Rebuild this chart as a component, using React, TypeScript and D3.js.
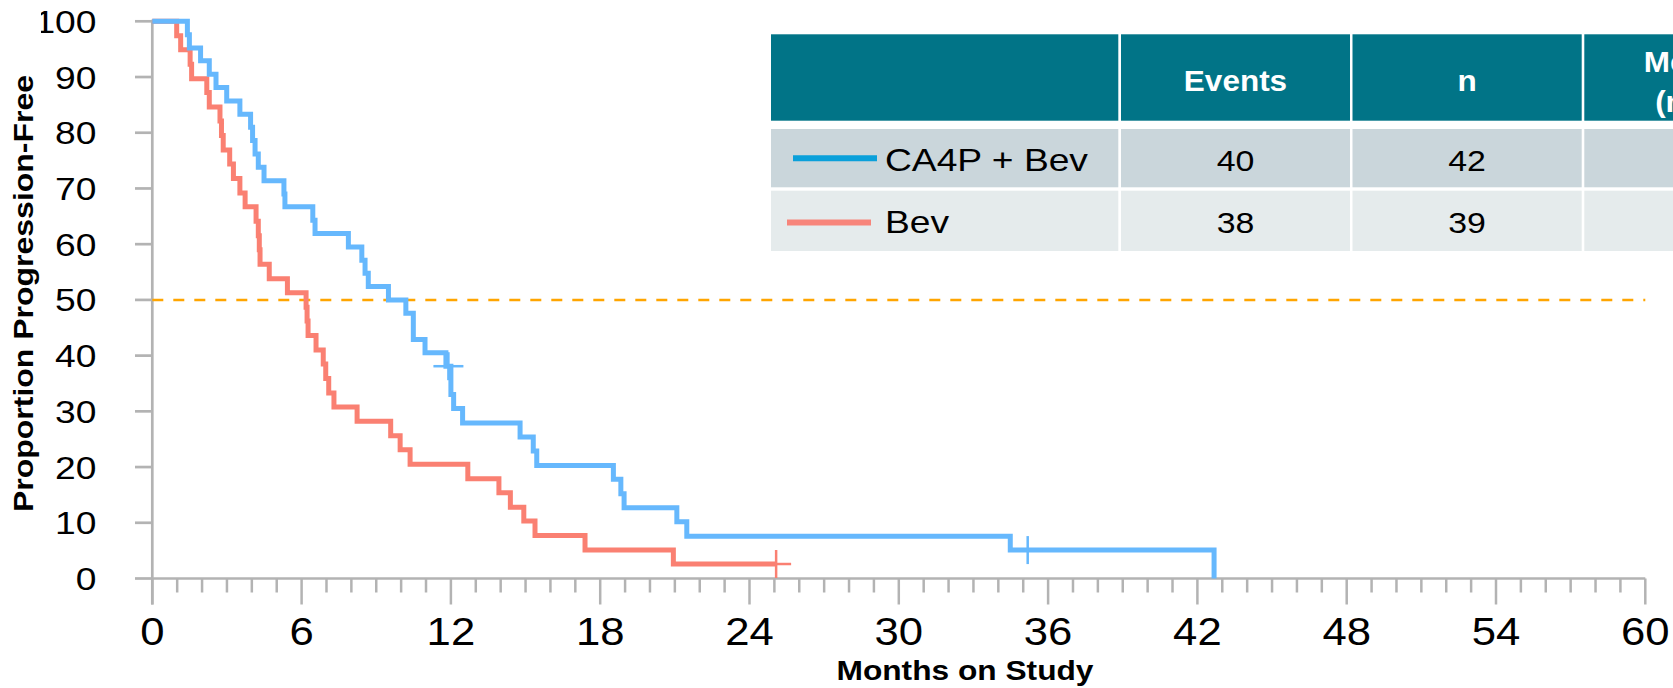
import React from "react";
import * as d3 from "d3";

// axis ticks
const xTicks = [0, 6, 12, 18, 24, 30, 36, 42, 48, 54, 60];
const yTicks = [0, 10, 20, 30, 40, 50, 60, 70, 80, 90, 100];

// CA4P + Bev (blue) KM steps: time in months, proportion progression-free
const caTimes = [0, 1.41, 1.49, 1.94, 2.29, 2.56, 2.99, 3.52, 3.95, 4.03, 4.13, 4.26, 4.49, 5.29, 5.33, 6.45, 6.54, 7.88, 8.42, 8.55, 8.68, 9.49, 10.19, 10.49, 10.96, 11.8, 12.0, 12.11, 12.47, 14.78, 15.31, 15.45, 18.53, 18.83, 18.96, 21.08, 21.48, 34.48, 42.67];
const caSurv = [100, 97.6, 95.2, 92.9, 90.5, 88.1, 85.7, 83.3, 81.0, 78.6, 76.2, 73.8, 71.4, 69.0, 66.7, 64.3, 61.9, 59.5, 57.1, 54.8, 52.4, 50.0, 47.6, 42.9, 40.5, 38.1, 33.0, 30.5, 27.9, 25.4, 22.9, 20.3, 17.8, 15.2, 12.7, 10.2, 7.6, 5.1, 0];
const caCensorTimes = [11.9, 35.18];
const caCensorSurv = [38.1, 5.1];

// Bev (red)
const bevTimes = [0, 0.98, 1.14, 1.52, 1.58, 2.19, 2.29, 2.72, 2.78, 2.85, 3.11, 3.26, 3.52, 3.73, 4.17, 4.26, 4.3, 4.33, 4.7, 5.43, 6.18, 6.22, 6.26, 6.58, 6.87, 6.97, 7.09, 7.3, 8.23, 9.58, 9.96, 10.36, 12.68, 13.93, 14.39, 14.93, 15.38, 17.39, 20.94, 25.07];
const bevSurv = [100, 97.4, 94.9, 92.3, 89.7, 87.2, 84.6, 82.1, 79.5, 76.9, 74.4, 71.8, 69.2, 66.7, 64.1, 61.5, 59.0, 56.4, 53.8, 51.3, 48.7, 46.2, 43.6, 41.0, 38.5, 35.9, 33.3, 30.8, 28.2, 25.6, 23.1, 20.5, 17.9, 15.4, 12.8, 10.3, 7.7, 5.1, 2.6, 2.6];
const bevCensorTimes = [25.07];
const bevCensorSurv = [2.6];

// table
const tableSeries = ["CA4P + Bev", "Bev"];
const tableEvents = [40, 38];
const tableN = [42, 39];
const medianHeader = ["Median", "(mos)"];

const W = 1673;
const H = 688;
const FONT = "'Liberation Sans', Arial, Helvetica, sans-serif";
const GREY = "#b3b3b3";
const BLUE = "#66b8fd";
const RED = "#fa8072";

const x = d3.scaleLinear().domain([0, 60]).range([152.3, 1645.3]);
const y = d3.scaleLinear().domain([0, 100]).range([578.5, 21.3]);

const stepLine = d3
  .line<[number, number]>()
  .x((d) => x(d[0]))
  .y((d) => y(d[1]))
  .curve(d3.curveStepAfter);

function Stretch({ px, py, sx = 1, anchor = "middle", size, weight = "normal", fill = "#000", children }: any) {
  return (
    <g transform={`translate(${px},${py}) scale(${sx},1)`}>
      <text x={0} y={0} textAnchor={anchor} fontSize={size} fontWeight={weight} fill={fill} fontFamily={FONT}>
        {children}
      </text>
    </g>
  );
}

function Censor({ t, s, color }: any) {
  const cx = x(t);
  const cy = y(s);
  return (
    <g stroke={color} strokeWidth={2.5}>
      <line x1={cx - 15} x2={cx + 15} y1={cy} y2={cy} />
      <line x1={cx} x2={cx} y1={cy - 14} y2={cy + 14} />
    </g>
  );
}

function Table() {
  const cols = [
    [771, 1118.3],
    [1121, 1350],
    [1352.5, 1581.7],
    [1584.3, 1840],
  ];
  const rows = [
    [34.3, 120.7],
    [129, 187.3],
    [190.7, 251],
  ];
  const fills = ["#017487", "#cad6db", "#e5ebec"];
  const rowBase = [170.7, 233.2];
  const legendColors = ["#0aa0da", "#f7857b"];
  const legendY = [158.3, 222.4];
  const legendX = [
    [793, 877],
    [787, 871],
  ];
  const mid = (c: number[]) => (c[0] + c[1]) / 2;
  return (
    <g>
      {rows.map((r, ri) =>
        cols.map((c, ci) => (
          <rect key={`${ri}-${ci}`} x={c[0]} y={r[0]} width={c[1] - c[0]} height={r[1] - r[0]} fill={fills[ri]} />
        ))
      )}
      <Stretch px={mid(cols[1])} py={90.7} sx={1.05} size={30} weight="bold" fill="#fff">Events</Stretch>
      <Stretch px={mid(cols[2])} py={90.7} sx={1.05} size={30} weight="bold" fill="#fff">n</Stretch>
      <Stretch px={1698} py={72.3} sx={1.05} size={30} weight="bold" fill="#fff">{medianHeader[0]}</Stretch>
      <Stretch px={1698} py={111.5} sx={1.05} size={30} weight="bold" fill="#fff">{medianHeader[1]}</Stretch>
      {tableSeries.map((name, i) => (
        <g key={name}>
          <line x1={legendX[i][0]} x2={legendX[i][1]} y1={legendY[i]} y2={legendY[i]} stroke={legendColors[i]} strokeWidth={6} />
          <Stretch px={885} py={rowBase[i]} sx={1.2} anchor="start" size={31}>{name}</Stretch>
          <Stretch px={mid(cols[1])} py={rowBase[i]} sx={1.13} size={30}>{tableEvents[i]}</Stretch>
          <Stretch px={mid(cols[2])} py={rowBase[i]} sx={1.13} size={30}>{tableN[i]}</Stretch>
        </g>
      ))}
    </g>
  );
}

export default function App() {
  const caPts = caTimes.map((t, i) => [t, caSurv[i]] as [number, number]);
  const bevPts = bevTimes.map((t, i) => [t, bevSurv[i]] as [number, number]);
  const minor = d3.range(0, 61, 1);
  const axisY = y(0);

  return (
    <>
      <style>{"body{margin:0;overflow:hidden}"}</style>
      <svg width={W} height={H} style={{ display: "block", background: "#fff" }}>
        <defs>
          <clipPath id="ylab">
            <rect x={41} y={0} width={200} height={H} />
          </clipPath>
        </defs>

        {/* y axis */}
        <line x1={x(0)} x2={x(0)} y1={y(100) - 1.5} y2={axisY + 26} stroke={GREY} strokeWidth={2.7} />
        {yTicks.map((v) => (
          <line key={v} x1={135} x2={x(0)} y1={y(v)} y2={y(v)} stroke={GREY} strokeWidth={2.7} />
        ))}
        <g clipPath="url(#ylab)">
          {yTicks.map((v) => (
            <Stretch key={v} px={96.5} py={y(v) + 11.5} sx={1.2} anchor="end" size={31}>{v}</Stretch>
          ))}
        </g>

        {/* x axis */}
        <line x1={x(0)} x2={x(60)} y1={axisY} y2={axisY} stroke={GREY} strokeWidth={2.7} />
        {minor.map((m) => (
          <line key={m} x1={x(m)} x2={x(m)} y1={axisY} y2={axisY + (m % 6 === 0 ? 26 : 14)} stroke={GREY} strokeWidth={2.5} />
        ))}
        {xTicks.map((v) => (
          <Stretch key={v} px={x(v)} py={645} sx={1.12} size={39}>{v}</Stretch>
        ))}

        {/* axis titles */}
        <text x={965} y={680} textAnchor="middle" fontSize={27} fontWeight="bold" fontFamily={FONT} textLength={257} lengthAdjust="spacingAndGlyphs">
          Months on Study
        </text>
        <text transform="translate(33.3,293.5) rotate(-90)" textAnchor="middle" fontSize={28} fontWeight="bold" fontFamily={FONT} textLength={437} lengthAdjust="spacingAndGlyphs">
          Proportion Progression-Free
        </text>

        {/* median reference */}
        <line x1={x(0)} x2={x(60)} y1={y(50)} y2={y(50)} stroke="#ffa500" strokeWidth={2.5} strokeDasharray="11 10" />

        {/* curves */}
        <path d={stepLine(bevPts) || ""} fill="none" stroke={RED} strokeWidth={5} strokeLinejoin="miter" />
        <path d={stepLine(caPts) || ""} fill="none" stroke={BLUE} strokeWidth={5} strokeLinejoin="miter" />
        {bevCensorTimes.map((t, i) => (
          <Censor key={`r${i}`} t={t} s={bevCensorSurv[i]} color={RED} />
        ))}
        {caCensorTimes.map((t, i) => (
          <Censor key={`b${i}`} t={t} s={caCensorSurv[i]} color={BLUE} />
        ))}

        <Table />
      </svg>
    </>
  );
}
